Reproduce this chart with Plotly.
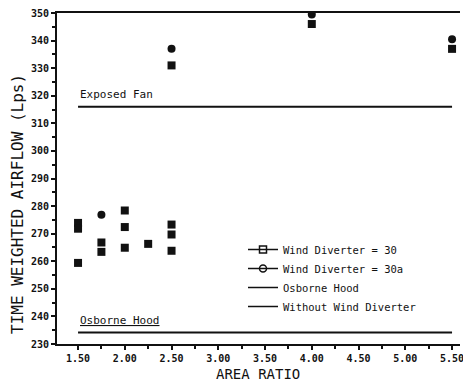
import plotly.graph_objects as go

# Data
wd30_x = [1.50, 1.50, 1.50, 1.75, 1.75, 2.00, 2.00, 2.00, 2.25, 2.50, 2.50, 2.50, 2.50, 4.00, 5.50]
wd30_y = [273.9, 271.8, 259.4, 266.8, 263.4, 278.4, 272.4, 264.9, 266.3, 273.3, 269.7, 263.8, 331.0, 346.0, 337.0]

wd30a_x = [1.75, 2.50, 4.00, 5.50]
wd30a_y = [276.9, 337.0, 349.5, 340.5]

line_x = [1.50, 5.50]
exposed_fan_y = [316.0, 316.0]
osborne_hood_y = [234.2, 234.2]

x_ticks = [1.5, 2.0, 2.5, 3.0, 3.5, 4.0, 4.5, 5.0, 5.5]
y_ticks = list(range(230, 351, 10))

MONO = "DejaVu Sans Mono"
INK = "#111111"

# page has an 8px body margin: compensate so the plot lands where the reference has it
OFF = 8
W, H = 471 - OFF, 384 - OFF
L, R, T, B = 57 - OFF, 11, 13 - OFF, 40
pw, ph = W - L - R, H - T - B


def px_to_paper(xp, yp):
    """Screen pixel (in the 471x384 window) -> paper coords."""
    return (xp - OFF - L) / pw, (T + ph - (yp - OFF)) / ph


fig = go.Figure()

# data traces
fig.add_trace(go.Scatter(x=wd30_x, y=wd30_y, mode="markers", showlegend=False,
                         marker=dict(symbol="square", size=8, color=INK, line=dict(color=INK, width=0))))
fig.add_trace(go.Scatter(x=wd30a_x, y=wd30a_y, mode="markers", showlegend=False,
                         marker=dict(symbol="circle", size=8, color=INK)))
fig.add_trace(go.Scatter(x=line_x, y=exposed_fan_y, mode="lines", showlegend=False,
                         line=dict(color=INK, width=2)))
fig.add_trace(go.Scatter(x=line_x, y=osborne_hood_y, mode="lines", showlegend=False,
                         line=dict(color=INK, width=2)))

# legend entries
fig.add_trace(go.Scatter(x=[None], y=[None], mode="lines+markers", name="Wind Diverter = 30",
                         marker=dict(symbol="square-open", size=7, color=INK, line=dict(width=1.5)),
                         line=dict(color=INK, width=1.5)))
fig.add_trace(go.Scatter(x=[None], y=[None], mode="lines+markers", name="Wind Diverter = 30a",
                         marker=dict(symbol="circle-open", size=7, color=INK, line=dict(width=1.5)),
                         line=dict(color=INK, width=1.5)))
fig.add_trace(go.Scatter(x=[None], y=[None], mode="lines", name="Osborne Hood",
                         line=dict(color=INK, width=1.5)))
fig.add_trace(go.Scatter(x=[None], y=[None], mode="lines", name="Without Wind Diverter",
                         line=dict(color=INK, width=1.5)))

fig.add_annotation(x=1.50, y=316.0, xref="x", yref="y", text="Exposed Fan", showarrow=False,
                   xanchor="left", yanchor="bottom", yshift=4,
                   font=dict(family=MONO, size=11, color=INK))
fig.add_annotation(x=1.50, y=234.2, xref="x", yref="y", text="<u>Osborne Hood</u>", showarrow=False,
                   xanchor="left", yanchor="bottom", yshift=3,
                   font=dict(family=MONO, size=11, color=INK))

# axis titles
ytx, yty = px_to_paper(17, 204)
fig.add_annotation(x=ytx, y=yty, xref="paper", yref="paper", text="TIME WEIGHTED AIRFLOW (Lps)",
                   showarrow=False, textangle=-90, xanchor="center", yanchor="middle",
                   font=dict(family=MONO, size=16, color=INK))
xtx, xty = px_to_paper(258, 374)
fig.add_annotation(x=xtx, y=xty, xref="paper", yref="paper", text="AREA RATIO",
                   showarrow=False, xanchor="center", yanchor="middle",
                   font=dict(family=MONO, size=14, color=INK))

lgx, lgy = px_to_paper(243, 235)

fig.update_layout(
    width=W, height=H,
    margin=dict(l=L, r=R, t=T, b=B),
    paper_bgcolor="white", plot_bgcolor="white",
    font=dict(family=MONO, color=INK),
    legend=dict(x=lgx, y=lgy, xanchor="left", yanchor="top",
                font=dict(family=MONO, size=10.5, color=INK),
                itemwidth=30, tracegroupgap=0, bgcolor="rgba(0,0,0,0)"),
    xaxis=dict(range=[1.275, 5.585], tickvals=x_ticks, ticktext=[f"{v:.2f}" for v in x_ticks],
               showline=True, linecolor=INK, linewidth=2, mirror=True, automargin=False,
               ticks="outside", ticklen=4, tickcolor=INK, tickwidth=1.5,
               ticklabeloverflow="allow",
               minor=dict(dtick=0.25, tick0=1.5, ticks="outside", ticklen=3, tickcolor=INK),
               showgrid=False, zeroline=False,
               tickfont=dict(family=MONO, size=10, color=INK, weight="bold")),
    yaxis=dict(range=[230, 350], tickvals=y_ticks,
               showline=True, linecolor=INK, linewidth=2, automargin=False,
               ticks="outside", ticklen=4, tickcolor=INK, tickwidth=1.5,
               ticklabeloverflow="allow",
               minor=dict(dtick=5, tick0=230, ticks="outside", ticklen=3, tickcolor=INK),
               showgrid=False, zeroline=False,
               tickfont=dict(family=MONO, size=10, color=INK, weight="bold")),
)

fig.write_html("out.html")
